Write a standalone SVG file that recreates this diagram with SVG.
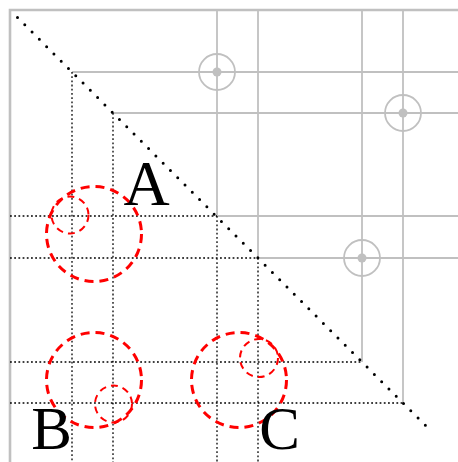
<svg xmlns="http://www.w3.org/2000/svg" width="458" height="462" viewBox="0 0 458 462">
<style>
.frame{stroke:#c0c0c0;stroke-width:2.6;fill:none}
.grid{stroke:#c0c0c0;stroke-width:1.8;fill:none}
.gc{stroke:#c0c0c0;stroke-width:1.8;fill:none}
.gd{fill:#c0c0c0}
.dot{stroke:#000;stroke-width:1.3;stroke-dasharray:1.8 2.4;fill:none}
.diag{stroke:#000;stroke-width:3;stroke-linecap:round;stroke-dasharray:0 10.3;fill:none}
.big{stroke:#ff0000;stroke-width:3;stroke-dasharray:9 6;fill:none}
.small{stroke:#ff0000;stroke-width:2;stroke-dasharray:7 5;fill:none}
.lbl{font-family:"Liberation Serif","DejaVu Serif",serif;font-size:64px;fill:#000;text-anchor:middle}
.lb2{font-size:61px}
</style>
<g id="frame">
<path class="frame" d="M10 462V10H458"/>
</g>
<g id="connectors">
<path class="grid" d="M72 72H458M113 113H458M217 216H458M258 258H458M217 10V216M258 10V258M362 10V362M403 10V403"/>
<path class="dot" d="M72 72V462M113 113V462M217 216V462M258 258V462M10 216H217M10 258H258M10 362H362M10 403H403"/>
<path class="diag" d="M17.5 17.5L429 429"/>
</g>
<g id="target1"><circle class="gc" cx="217" cy="72" r="18"/><circle class="gd" cx="217" cy="72" r="4.5"/></g>
<g id="target2"><circle class="gc" cx="403" cy="113" r="18"/><circle class="gd" cx="403" cy="113" r="4.5"/></g>
<g id="target3"><circle class="gc" cx="362" cy="258" r="18"/><circle class="gd" cx="362" cy="258" r="4.5"/></g>
<g id="nodeA">
<circle class="big" cx="94" cy="234" r="47.5"/>
<circle class="small" cx="70" cy="215" r="18.5"/>
<text class="lbl" x="146.5" y="205">A</text>
</g>
<g id="nodeB">
<circle class="big" cx="94" cy="380" r="47.5"/>
<circle class="small" cx="113.5" cy="404" r="18.5"/>
<text class="lbl lb2" x="51.5" y="449">B</text>
</g>
<g id="nodeC">
<circle class="big" cx="239" cy="380" r="47.5"/>
<circle class="small" cx="259" cy="358" r="19"/>
<text class="lbl lb2" x="279.5" y="449">C</text>
</g>
</svg>
